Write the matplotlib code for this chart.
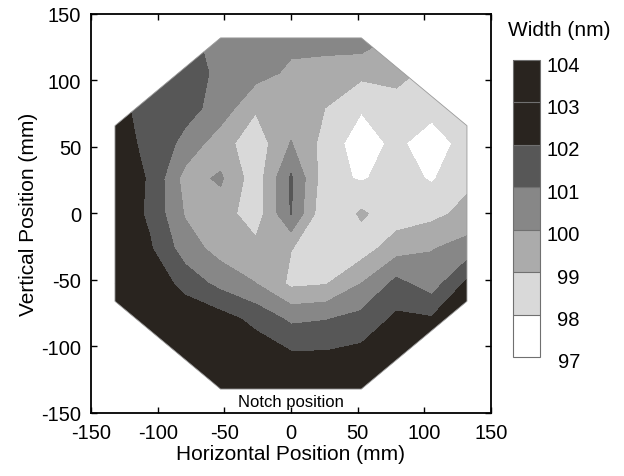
import numpy as np
import matplotlib
matplotlib.use('Agg')
import matplotlib.pyplot as plt
from matplotlib.patches import Polygon
from matplotlib.transforms import offset_copy

plt.rcParams['font.family'] = ['Liberation Sans', 'DejaVu Sans']
plt.rcParams['axes.unicode_minus'] = False

# measurement sites on the wafer (mm)
x_pos = [-132, -105.6, -79.2, -52.8, -26.4, 0, 26.4, 52.8, 79.2, 105.6, 132]
y_pos = [132, 105.6, 79.2, 52.8, 26.4, 0, -26.4, -52.8, -79.2, -105.6, -132]

# measured line width (nm), one row per y_pos, columns follow x_pos
width_nm = [
    [102.0, 101.6, 101.2, 100.7, 100.5, 100.3, 100.4, 100.6, 99.8, 99.2, 99.1],
    [102.2, 101.6, 101.5, 100.75, 100.4, 99.8, 99.6, 99.25, 99.3, 98.7, 98.8],
    [102.3, 101.6, 101.35, 100.6, 99.1, 99.5, 98.98, 98.1, 98.6, 98.5, 98.8],
    [102.4, 101.75, 100.7, 99.4, 98.4, 100.05, 98.6, 97.4, 98.3, 97.2, 98.6],
    [102.6, 101.9, 99.6, 100.15, 98.4, 101.15, 98.3, 97.9, 98.4, 97.9, 98.75],
    [102.8, 101.8, 99.9, 99.5, 98.4, 101.05, 98.02, 99.15, 98.4, 98.7, 99.3],
    [103.0, 102.1, 100.5, 99.6, 99.3, 99.02, 98.6, 98.5, 99.6, 99.95, 100.4],
    [103.0, 102.8, 101.6, 100.7, 100.02, 98.8, 98.95, 100.02, 101.3, 100.5, 102.2],
    [103.2, 103.0, 102.8, 102.4, 101.7, 100.8, 100.95, 101.3, 102.2, 102.1, 103.0],
    [103.5, 103.3, 103.0, 102.8, 102.6, 102.1, 102.1, 102.3, 102.6, 103.0, 103.3],
    [103.6, 103.5, 103.3, 103.0, 102.9, 102.7, 102.7, 102.9, 103.1, 103.3, 103.5],
]

# wafer edge of the measured area
wafer_edge = [(-52.8, 132), (52.8, 132), (132, 66), (132, -66),
              (52.8, -132), (-52.8, -132), (-132, -66), (-132, 66)]

levels = [97, 98, 99, 100, 101, 102, 103, 104]
band_colors = ['#ffffff', '#d9d9d9', '#ababab', '#878787',
               '#575757', '#29241f', '#29241f']

X, Y = np.meshgrid(x_pos, y_pos)
Z = np.array(width_nm)

fig = plt.figure(figsize=(6.24, 4.77), dpi=100)
ax = fig.add_axes([0.1458, 0.1321, 0.641, 0.8365])

cs = ax.contourf(X, Y, Z, levels=levels, colors=band_colors)
wafer = Polygon(wafer_edge, closed=True, facecolor='none',
                edgecolor='#9a9a9a', linewidth=0.6, zorder=3)
ax.add_patch(wafer)
cs.set_clip_path(wafer)

ax.set_xlim(-150, 150)
ax.set_ylim(-150, 150)
ax.set_xticks([-150, -100, -50, 0, 50, 100, 150])
ax.set_yticks([-150, -100, -50, 0, 50, 100, 150])
ax.tick_params(direction='in', top=True, right=True, length=4, width=1,
               labelsize=14.5, pad=7)
for sp in ax.spines.values():
    sp.set_linewidth(1.3)
ax.set_xlabel('Horizontal Position (mm)', fontsize=15, labelpad=2)
ax.set_ylabel('Vertical Position (mm)', fontsize=15, labelpad=2)
ax.text(0, -141.5, 'Notch position', ha='center', va='center', fontsize=12)

# colour key
cax = fig.add_axes([0.8221, 0.2495, 0.0433, 0.6226])
cb = fig.colorbar(cs, cax=cax, drawedges=True)
cb.outline.set_edgecolor('#707070')
cb.outline.set_linewidth(0.8)
cb.dividers.set_color('#707070')
cb.dividers.set_linewidth(0.8)
cb.set_ticks([])
cax.tick_params(length=0)
label_tr = offset_copy(cax.transAxes, fig=fig, x=0, y=-5, units='dots')
for v in levels:
    frac = (v - levels[0]) / (levels[-1] - levels[0])
    cax.text(2.48, frac, str(v), transform=label_tr,
             ha='right', va='center', fontsize=14.5)
fig.text(0.897, 0.937, 'Width (nm)', ha='center', va='center', fontsize=15)

plt.savefig('out.png', dpi=100)
